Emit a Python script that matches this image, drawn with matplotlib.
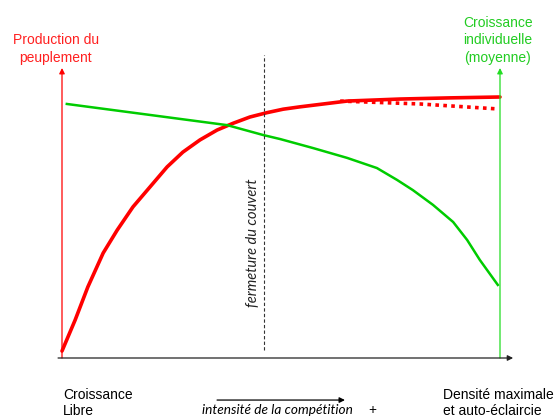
import matplotlib
matplotlib.use("Agg")
import matplotlib.pyplot as plt

# courbe de production (rouge), densité 0..100
prod_x = [0, 3.0, 5.9, 9.4, 12.6, 16.2, 20.1, 24.0, 27.6, 31.5, 35.4, 39.0,
          42.9, 46.8, 50.5, 54.3, 65.1, 77.2, 88.6, 100]
prod_y = [2.4, 13.1, 24.5, 36.2, 44.1, 52.1, 59.0, 65.9, 71.0, 75.2, 78.6, 80.9,
          83.1, 84.6, 85.8, 86.6, 88.6, 89.3, 89.7, 90.0]
# variante en pointillés (auto-éclaircie)
prod2_x = [63.5, 81.7, 99.3]
prod2_y = [88.6, 87.6, 85.9]
# croissance individuelle (vert)
crois_x = [1.1, 37.7, 45.9, 49.8, 57.3, 65.1, 71.9, 76.5, 80.1, 84.7, 89.3,
           92.5, 95.4, 99.5]
crois_y = [87.6, 80.3, 76.9, 75.5, 72.4, 69.0, 65.5, 61.4, 57.9, 52.8, 46.9,
           40.7, 33.8, 25.2]
fermeture_x = 46.1

fig = plt.figure(figsize=(5.58, 4.18), dpi=100)
ax = fig.add_axes([62/558, 60/418, 438/558, 290/418])
ax.set_xlim(0, 100)
ax.set_ylim(0, 100)
ax.axis("off")

red = "#FF0000"
green = "#00CC00"

ax.plot(prod_x, prod_y, color=red, lw=2.6, solid_capstyle="round",
        solid_joinstyle="round", clip_on=False)
ax.plot(prod2_x, prod2_y, color=red, lw=2.6, linestyle=(0, (1, 1.2)), clip_on=False)
ax.plot(crois_x, crois_y, color=green, lw=1.8, solid_joinstyle="round", clip_on=False)

# ligne de fermeture du couvert
ax.plot([fermeture_x, fermeture_x], [2.8, 104.5], color="#333333", lw=0.8,
        linestyle=(0, (3, 2)), clip_on=False)
ax.text(fermeture_x - 2.5, 39.7, "fermeture du couvert", rotation=90, ha="center",
        va="center", fontsize=10.5, style="italic", family="Lato", color="#222222")

# axes avec flèches
def fleche(x0, y0, x1, y1, col):
    ax.annotate("", xy=(x1, y1), xytext=(x0, y0), annotation_clip=False,
                arrowprops=dict(arrowstyle="-|>", color=col, lw=0.9,
                                mutation_scale=8, shrinkA=0, shrinkB=0))

fleche(0, 0, 0, 100, red)
fleche(100, 0, 100, 100, "#22DD22")
fleche(-0.9, 0, 103, 0, "#222222")
fleche(35.4, -14.5, 64.6, -14.5, "black")

font = "Liberation Sans"
ax.text(-1.4, 106.5, "Production du\npeuplement", ha="center", va="center",
        fontsize=10, color="#FF2020", family=font, linespacing=1.35)
ax.text(99.5, 109.5, "Croissance\nindividuelle\n(moyenne)", ha="center", va="center",
        fontsize=10, color="#22CC22", family=font, linespacing=1.35)
ax.text(0.2, -15.5, "Croissance\nLibre", ha="left", va="center",
        fontsize=10, color="black", family=font, linespacing=1.15)
ax.text(87, -15.5, "Densité maximale\net auto-éclaircie", ha="left", va="center",
        fontsize=10, color="black", family=font, linespacing=1.15)
ax.text(32.0, -17.9, "intensité de la compétition", ha="left", va="center",
        fontsize=9.8, style="italic", family="Lato", color="black")
ax.text(70.8, -17.9, "+", ha="center", va="center", fontsize=9.8, family="Lato")

fig.savefig("out.png", dpi=100)
